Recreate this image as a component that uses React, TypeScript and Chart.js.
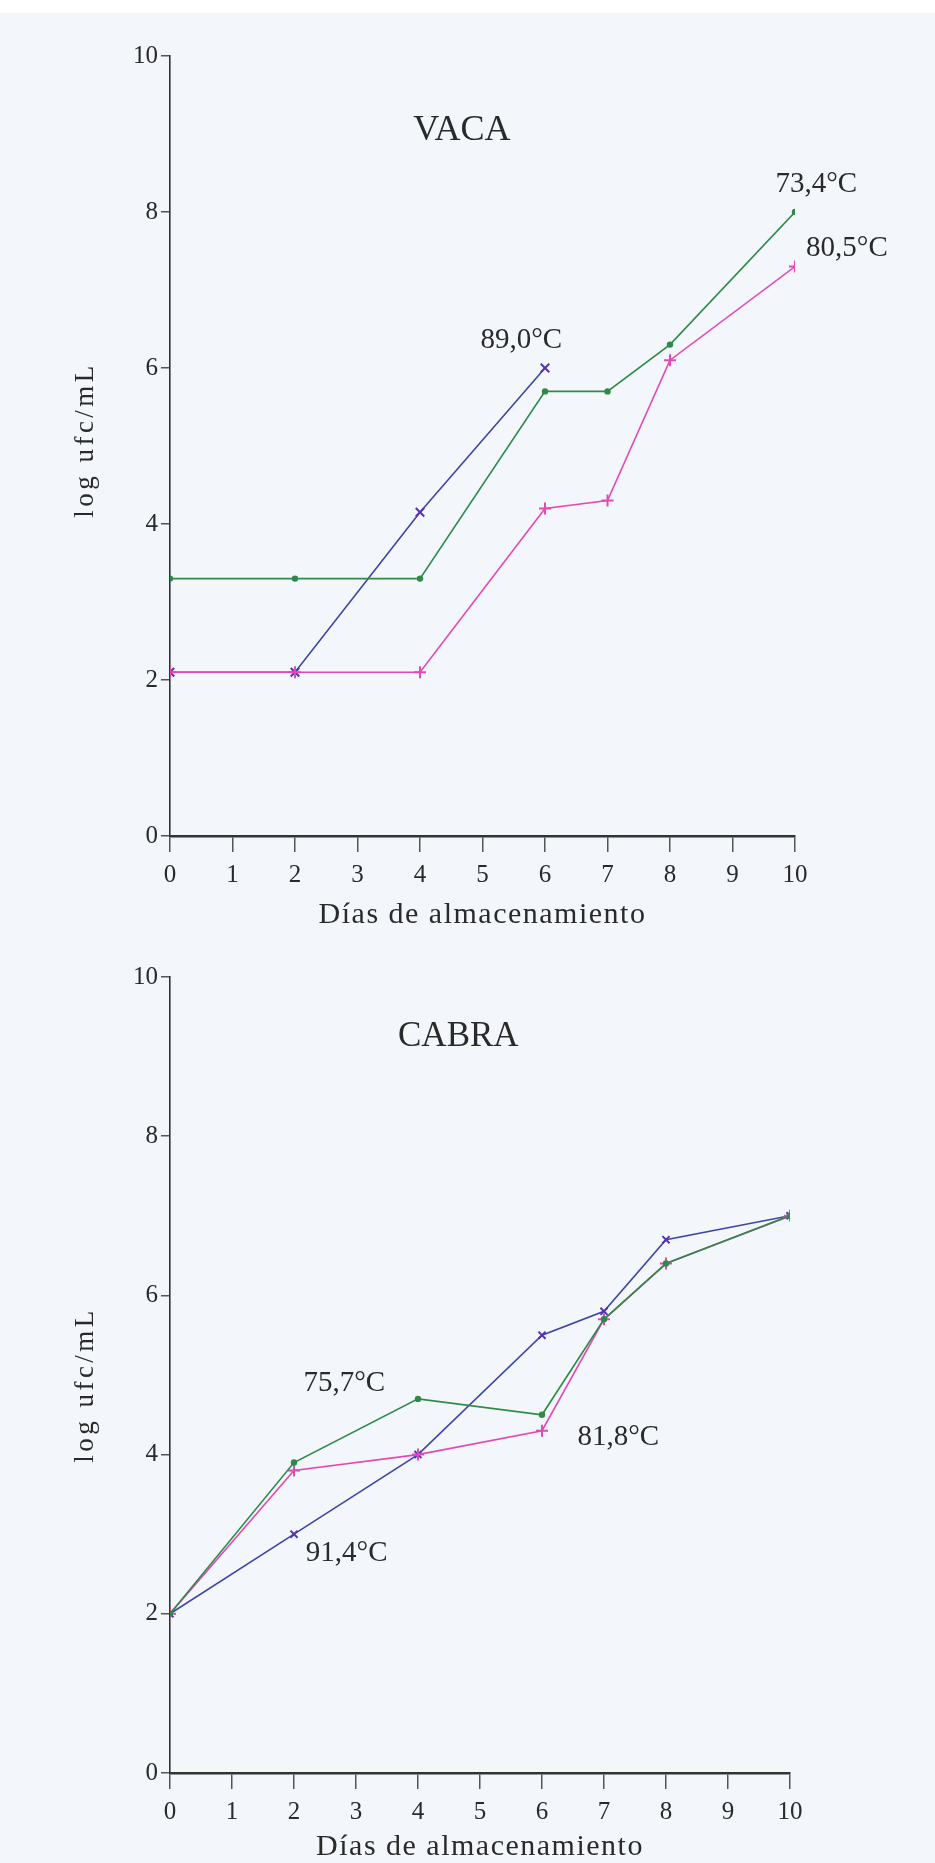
import React, { useEffect, useRef } from "react";
import { Chart, registerables } from "chart.js";

Chart.register(...registerables);

// ---------- data ----------
const xTicks = [0, 1, 2, 3, 4, 5, 6, 7, 8, 9, 10];
const yTicks = [0, 2, 4, 6, 8, 10];

const vacaDays = [0, 2, 4, 6, 7, 8, 10];
const vaca734 = [3.3, 3.3, 3.3, 5.7, 5.7, 6.3, 8.0];
const vaca805 = [2.1, 2.1, 2.1, 4.2, 4.3, 6.1, 7.3];
const vaca890Days = [0, 2, 4, 6];
const vaca890 = [2.1, 2.1, 4.15, 6.0];

const cabraDays = [0, 2, 4, 6, 7, 8, 10];
const cabra757 = [2.0, 3.9, 4.7, 4.5, 5.7, 6.4, 7.0];
const cabra818 = [2.0, 3.8, 4.0, 4.3, 5.7, 6.4, 7.0];
const cabra914 = [2.0, 3.0, 4.0, 5.5, 5.8, 6.7, 7.0];

const xTitle = "Días de almacenamiento";
const yTitle = "log ufc/mL";

// ---------- styles ----------
const BLUE = "#3d45a6";
const BLUE_PT = "#5632b4";
const GREEN = "#2f8a48";
const PINK = "#e448b6";
const TEXT = "#2a2a2a";
const SERIF = "'Liberation Serif', 'Times New Roman', serif";

type Label = { text: string; x: number; y: number; size: number };

function pts(xs: number[], ys: number[]) {
  return xs.map((x, i) => ({ x, y: ys[i] }));
}

function series(label: string, xs: number[], ys: number[], color: string, ptColor: string, style: string, radius: number) {
  return {
    label,
    data: pts(xs, ys),
    borderColor: color,
    borderWidth: 1.6,
    pointStyle: style,
    pointRadius: radius,
    pointBorderColor: ptColor,
    pointBackgroundColor: ptColor,
    pointBorderWidth: 2,
    tension: 0,
    fill: false,
  };
}

type PanelProps = {
  top: number;
  height: number;
  padTop: number;
  padRight: number;
  axisHeight: number;
  datasets: any[];
  labels: Label[];
  xTitleY: number;
  yTitleY: number;
};

function Panel(p: PanelProps) {
  const ref = useRef<HTMLCanvasElement | null>(null);
  useEffect(() => {
    if (!ref.current) return;
    const textPlugin = {
      id: "texts",
      afterDraw(chart: any) {
        const ctx = chart.ctx as CanvasRenderingContext2D;
        const xs = chart.scales.x;
        const ys = chart.scales.y;
        const area = chart.chartArea;
        ctx.save();
        ctx.fillStyle = TEXT;
        ctx.textAlign = "center";
        ctx.textBaseline = "middle";
        for (const l of p.labels) {
          ctx.font = `${l.size}px ${SERIF}`;
          ctx.fillText(l.text, xs.getPixelForValue(l.x), ys.getPixelForValue(l.y));
        }
        // x axis title
        ctx.font = `30px ${SERIF}`;
        (ctx as any).letterSpacing = "1.5px";
        ctx.fillText(xTitle, (area.left + area.right) / 2, p.xTitleY);
        // y axis title
        ctx.font = `27px ${SERIF}`;
        (ctx as any).letterSpacing = "3.5px";
        ctx.translate(86, p.yTitleY);
        ctx.rotate(-Math.PI / 2);
        ctx.fillText(yTitle, 0, 0);
        ctx.restore();
      },
    };
    const chart = new Chart(ref.current, {
      type: "line",
      data: { datasets: p.datasets },
      options: {
        animation: false,
        responsive: false,
        maintainAspectRatio: false,
        layout: { padding: { top: p.padTop, right: p.padRight, left: 0, bottom: 0 } },
        plugins: { legend: { display: false }, tooltip: { enabled: false }, title: { display: false } },
        scales: {
          x: {
            type: "linear",
            min: 0,
            max: 10,
            afterBuildTicks: (s: any) => {
              s.ticks = xTicks.map((v) => ({ value: v }));
            },
            afterFit: (s: any) => {
              s.height = p.axisHeight;
            },
            ticks: {
              color: TEXT,
              font: { family: SERIF, size: 25 },
              padding: 8,
              maxRotation: 0,
              autoSkip: false,
            },
            grid: { drawOnChartArea: false, drawTicks: true, tickLength: 16, color: "#555", lineWidth: 1.5 },
            border: { display: true, color: "#333", width: 2.5 },
          },
          y: {
            type: "linear",
            min: 0,
            max: 10,
            afterBuildTicks: (s: any) => {
              s.ticks = yTicks.map((v) => ({ value: v }));
            },
            afterFit: (s: any) => {
              s.width = 170;
            },
            ticks: {
              color: TEXT,
              font: { family: SERIF, size: 25 },
              padding: 3,
            },
            grid: { drawOnChartArea: false, drawTicks: true, tickLength: 9, color: "#555", lineWidth: 1.5 },
            border: { display: true, color: "#333", width: 1.6 },
          },
        },
      } as any,
      plugins: [textPlugin],
    });
    return () => chart.destroy();
  }, []);
  return (
    <canvas
      ref={ref}
      width={935}
      height={p.height}
      style={{ position: "absolute", left: 0, top: p.top, width: 935, height: p.height }}
    />
  );
}

export default function App() {
  const vacaSets = [
    series("73,4°C", vacaDays, vaca734, GREEN, GREEN, "circle", 2.2),
    series("80,5°C", vacaDays, vaca805, PINK, PINK, "cross", 6),
    series("89,0°C", vaca890Days, vaca890, BLUE, BLUE_PT, "crossRot", 6),
  ];
  const cabraSets = [
    series("75,7°C", cabraDays, cabra757, GREEN, GREEN, "circle", 2.2),
    series("81,8°C", cabraDays, cabra818, PINK, PINK, "cross", 6),
    series("91,4°C", cabraDays, cabra914, BLUE, BLUE_PT, "crossRot", 5),
  ];
  const vacaLabels: Label[] = [
    { text: "VACA", x: 4.67, y: 9.05, size: 36 },
    { text: "73,4°C", x: 10.34, y: 8.35, size: 29 },
    { text: "80,5°C", x: 10.83, y: 7.53, size: 29 },
    { text: "89,0°C", x: 5.62, y: 6.36, size: 29 },
  ];
  const cabraLabels: Label[] = [
    { text: "CABRA", x: 4.65, y: 9.25, size: 35 },
    { text: "75,7°C", x: 2.81, y: 4.9, size: 29 },
    { text: "81,8°C", x: 7.23, y: 4.22, size: 29 },
    { text: "91,4°C", x: 2.85, y: 2.76, size: 29 },
  ];
  return (
    <div
      style={{
        position: "absolute",
        left: 0,
        top: 0,
        width: 935,
        height: 1863,
        background: "#f3f6fb",
        overflow: "hidden",
      }}
    >
      <div style={{ position: "absolute", left: 0, top: 0, width: 935, height: 13, background: "#ffffff" }} />
      <Panel
        top={0}
        height={940}
        padTop={56}
        padRight={140}
        axisHeight={104}
        datasets={vacaSets}
        labels={vacaLabels}
        xTitleY={915}
        yTitleY={440}
      />
      <Panel
        top={940}
        height={923}
        padTop={37}
        padRight={145}
        axisHeight={90}
        datasets={cabraSets}
        labels={cabraLabels}
        xTitleY={907}
        yTitleY={445}
      />
    </div>
  );
}
